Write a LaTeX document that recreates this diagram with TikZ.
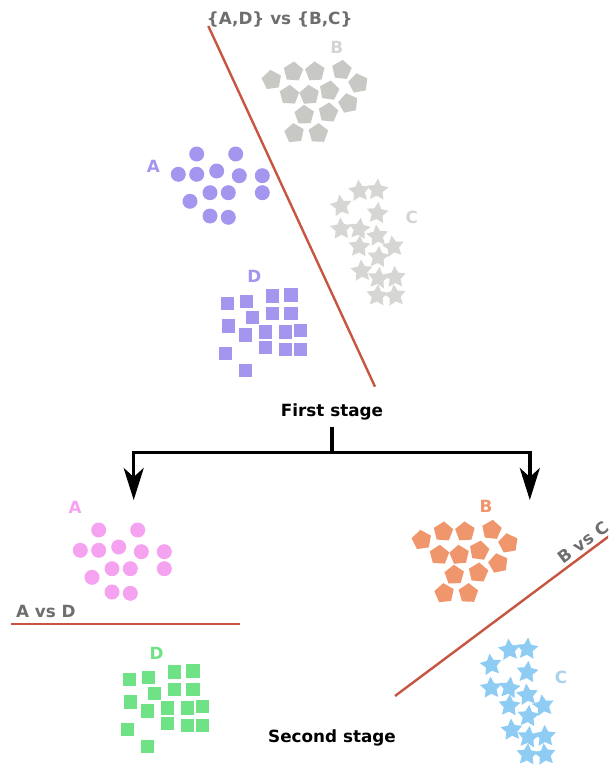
\documentclass[tikz,border=0pt]{standalone}
\usepackage{fontspec}
\setmainfont{DejaVu Sans}
\usetikzlibrary{shapes.geometric,arrows.meta}
\definecolor{lav}{RGB}{164,150,238}
\definecolor{grayb}{RGB}{200,200,196}
\definecolor{grayc}{RGB}{214,214,210}
\definecolor{graylbl}{RGB}{212,212,212}
\definecolor{txtgray}{RGB}{110,110,110}
\definecolor{sepred}{RGB}{200,85,65}
\definecolor{pinkc}{RGB}{245,162,240}
\definecolor{orangec}{RGB}{240,150,108}
\definecolor{greenc}{RGB}{112,226,134}
\definecolor{bluec}{RGB}{142,204,244}
\definecolor{bluelbl}{RGB}{170,210,232}
\begin{document}
\begin{tikzpicture}[x=1pt,y=-1pt,
 lbl/.style={font=\fontsize{16.8}{20}\selectfont\bfseries, inner sep=0pt},
 circ/.style={circle, fill=#1, minimum size=15pt, inner sep=0pt},
 sq/.style={rectangle, fill=#1, minimum size=13.3pt, inner sep=0pt},
 pent/.style={regular polygon, regular polygon sides=5, fill=#1, minimum size=20.5pt, inner sep=0pt},
 st/.style={star, star points=5, star point ratio=2.0, fill=#1, minimum size=23pt, inner sep=0pt},
 sepline/.style={draw=sepred, line width=2.4pt},
 arw/.style={draw=black, line width=3.5pt, -{Stealth[length=32pt,width=20pt,inset=9pt]}}]
\useasboundingbox (0,0) rectangle (608,765);
\clip (0,0) rectangle (608,765);

% ---------- First stage ----------
\node[lbl, text=txtgray, anchor=base] (t1) at (279.7,25) {\{A,D\} vs \{B,C\}};
\coordinate (s1a) at (208.3,26);
\coordinate (s1b) at (375,386.7);
\draw[sepline] (s1a) -- (s1b);

% A circles
\foreach \x/\y [count=\i] in {196.7/154,235.7/154,178.3/174.3,196.7/174.3,216.7/171,239.3/175.7,262.3/175.7,210/192.7,228.3/192.7,262.3/192.7,190/201.3,210/216,228.3/217.3}{
  \node[circ=lav] (ca\i) at (\x,\y) {};
  \node[circ=pinkc] (cb\i) at (\x-98,\y+376) {};
}
% D squares
\foreach \x/\y [count=\i] in {227.3/303.3,246.7/301.7,272.7/296,291/295,252.7/317.7,272.7/313.3,291/313.3,228.3/326,245.7/335,265.7/332,285.7/332,300.7/330.7,265.7/347.7,285.7/349.3,300.7/349.3,225.7/353.3,245.7/370.7}{
  \node[sq=lav] (da\i) at (\x,\y) {};
  \node[sq=greenc] (db\i) at (\x-98,\y+376) {};
}
% B pentagons
\foreach \x/\y/\r [count=\i] in {271.7/80/8,293.3/71.7/-4,315/71.7/3,341.7/70/-6,358.3/83.3/10,289.3/95/-3,309.3/95/5,329.3/90.7/-8,348.3/103.3/12,304.3/115/2,328.3/112.7/-5,294.3/133.3/6,318.3/133.3/-2}{
  \node[pent=grayb, rotate=\r] (pa\i) at (\x,\y) {};
  \node[pent=orangec, rotate=\r] (pb\i) at (\x+150,\y+460) {};
}
% C stars
\foreach \x/\y/\r [count=\i] in {359.3/191/5,377.3/190/-4,341/206/8,377.3/213.3/-6,341/229/3,359.3/229/-8,377.3/236/6,359.3/246.7/-3,393.3/246.7/9,378.3/257.3/-5,361.7/271/4,378.3/278.3/-7,395/277.3/2,377.3/295.7/-4,395/295.7/7}{
  \node[st=grayc, rotate=\r] (sa\i) at (\x,\y) {};
  \node[st=bluec, rotate=\r] (sb\i) at (\x+150,\y+459) {};
}

% first-stage labels
\node[lbl, text=lav] (la1) at (153.3,166) {A};
\node[lbl, text=lav] (ld1) at (254.3,276.7) {D};
\node[lbl, text=graylbl] (lb1) at (336.7,47.7) {B};
\node[lbl, text=graylbl] (lc1) at (411.7,217.7) {C};

% ---------- Arrows ----------
\node[lbl, anchor=base, outer sep=7pt] (fs) at (332,416) {First stage};
\coordinate (j) at (332,452.3);
\coordinate (tl) at (133.7,500);
\coordinate (tr) at (529.8,500);
\draw[arw] (fs.south) -- (j) -| (tl);
\draw[arw] (fs.south) -- (j) -| (tr);

% ---------- Second stage ----------
\node[lbl, text=pinkc] (la2) at (75,507.3) {A};
\node[lbl, text=greenc] (ld2) at (156.7,653.3) {D};
\node[lbl, text=orangec] (lb2) at (486,506.7) {B};
\node[lbl, text=bluelbl] (lc2) at (561,677.5) {C};

\node[lbl, text=txtgray] (avd) at (45.8,611.3) {A vs D};
\coordinate (s2a) at (11,624);
\coordinate (s2b) at (240,624);
\draw[sepline] (s2a) -- (s2b);

\coordinate (s3a) at (395,696);
\coordinate (s3b) at (640,513);
\draw[sepline] (s3a) -- (s3b) node[lbl, text=txtgray, pos=0.795, sloped, above, inner sep=3pt] (bvc) {B vs C};

\node[lbl, anchor=base] (ss) at (332,742.7) {Second stage};
\end{tikzpicture}
\end{document}
